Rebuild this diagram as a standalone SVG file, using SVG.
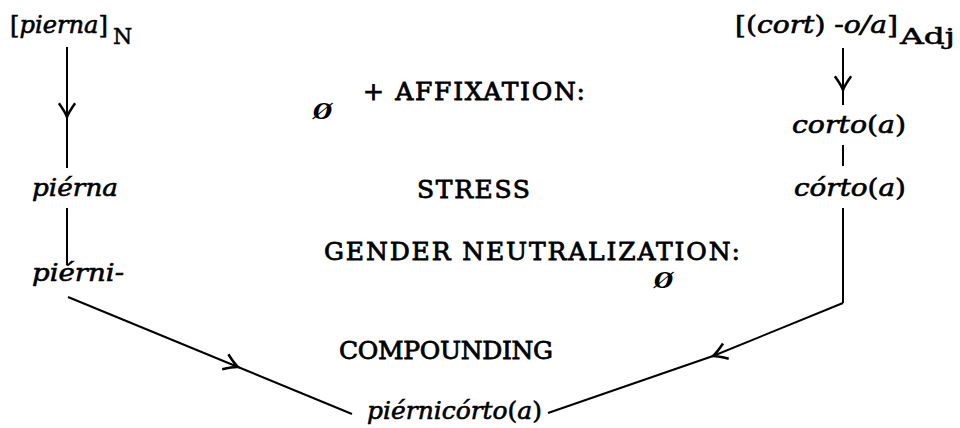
<svg xmlns="http://www.w3.org/2000/svg" width="960" height="428" viewBox="0 0 960 428">
<style>
.lab{font-family:"DejaVu Serif","Liberation Serif",serif;font-size:25px;fill:#000;stroke:#000;stroke-width:0.8}
.it{font-family:"DejaVu Serif","Liberation Serif",serif;font-style:italic;font-size:24px;fill:#000;stroke:#000;stroke-width:0.6}
.up{font-style:normal}
.sub{font-family:"DejaVu Serif","Liberation Serif",serif;font-size:22px;fill:#000;stroke:#000;stroke-width:0.5}
.nul{font-family:"DejaVu Serif",serif;font-weight:bold;font-style:italic;font-size:22px;fill:#000}
.ln{fill:none;stroke:#000;stroke-width:2}
</style>
<defs>
<marker id="ah" markerUnits="userSpaceOnUse" markerWidth="20" markerHeight="20" viewBox="-12 -8 14 16" refX="0" refY="0" orient="auto">
<path d="M-11,-6.5 Q-4,-1.5 0,0 Q-4,1.5 -11,6.5" fill="none" stroke="#000" stroke-width="2"/>
</marker>
</defs>
<g id="connectors">
<polyline class="ln" points="67,47 67,117 67,168" marker-mid="url(#ah)"/>
<line class="ln" x1="67" y1="208" x2="67" y2="265"/>
<polyline class="ln" points="68,297 238,367 352,414" marker-mid="url(#ah)"/>
<polyline class="ln" points="843,48 843,90 843,105" marker-mid="url(#ah)"/>
<line class="ln" x1="843" y1="145" x2="843" y2="166"/>
<polyline class="ln" points="843,208 843,303"/>
<polyline class="ln" points="843,303 713,356 548,413" marker-mid="url(#ah)"/>
</g>
<g id="n-pierna-N">
<text class="it" x="10" y="33" textLength="98" lengthAdjust="spacingAndGlyphs"><tspan class="up">[</tspan>pierna<tspan class="up">]</tspan></text>
<text class="sub" x="113" y="44">N</text>
</g>
<g id="n-cort-adj">
<text class="it" x="735" y="33" textLength="163" lengthAdjust="spacingAndGlyphs"><tspan class="up">[(</tspan>cort<tspan class="up">) -</tspan>o/a<tspan class="up">]</tspan></text>
<text class="sub" x="900" y="44" textLength="55" lengthAdjust="spacingAndGlyphs">Adj</text>
</g>
<g id="n-affixation">
<text class="lab" x="363" y="100" textLength="222" lengthAdjust="spacing">+ AFFIXATION:</text>
<text class="nul" x="313" y="119">Ø</text>
</g>
<g id="n-corto">
<text class="it" x="792" y="133" textLength="114" lengthAdjust="spacingAndGlyphs">corto<tspan class="up">(</tspan>a<tspan class="up">)</tspan></text>
</g>
<g id="n-pierna-stressed">
<text class="it" x="32" y="196" textLength="86" lengthAdjust="spacingAndGlyphs">piérna</text>
</g>
<g id="n-stress">
<text class="lab" x="417" y="198" textLength="113" lengthAdjust="spacing">STRESS</text>
</g>
<g id="n-corto-stressed">
<text class="it" x="794" y="196" textLength="112" lengthAdjust="spacingAndGlyphs">córto<tspan class="up">(</tspan>a<tspan class="up">)</tspan></text>
</g>
<g id="n-gender">
<text class="lab" x="324" y="260" textLength="416" lengthAdjust="spacing">GENDER NEUTRALIZATION:</text>
<text class="nul" x="654" y="288">Ø</text>
</g>
<g id="n-pierni">
<text class="it" x="32" y="281" textLength="92" lengthAdjust="spacingAndGlyphs">piérni-</text>
</g>
<g id="n-compounding">
<text class="lab" x="339" y="359" textLength="214" lengthAdjust="spacing">COMPOUNDING</text>
</g>
<g id="n-result">
<text class="it" x="367" y="419" textLength="175" lengthAdjust="spacingAndGlyphs">piérnicórto<tspan class="up">(</tspan>a<tspan class="up">)</tspan></text>
</g>
</svg>
